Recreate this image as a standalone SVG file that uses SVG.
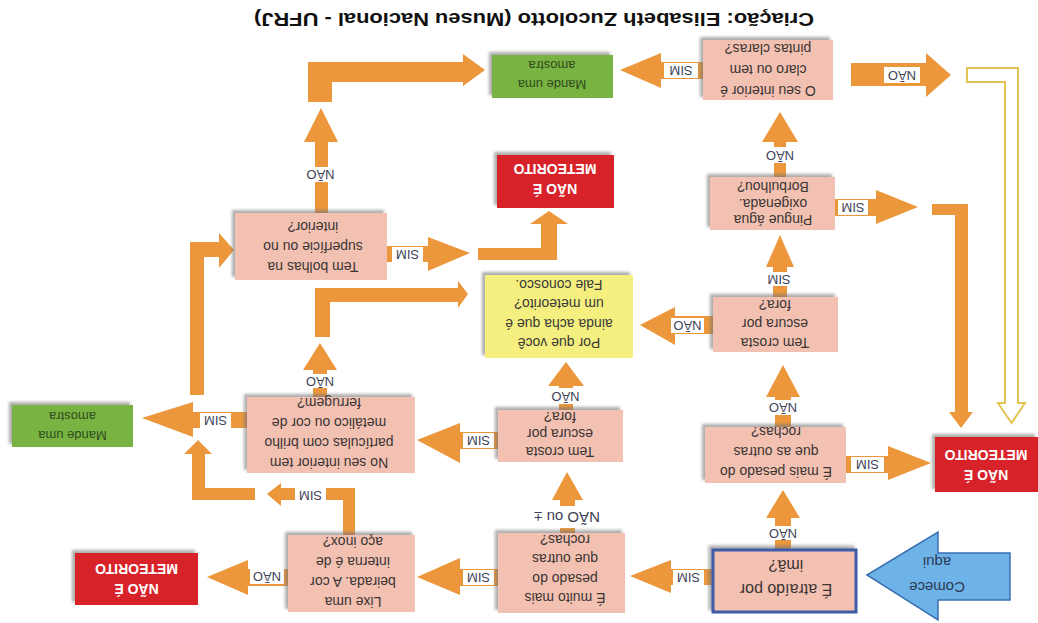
<svg xmlns="http://www.w3.org/2000/svg" width="1038" height="623" viewBox="0 0 1038 623">
<defs>
<filter id="sh" x="-10%" y="-10%" width="120%" height="120%">
<feDropShadow dx="-3" dy="-3" stdDeviation="1.5" flood-color="#777" flood-opacity="0.6"/>
</filter>
<style>
.pink{fill:#f3c1b1;filter:url(#sh)}
.red{fill:#d8232a;filter:url(#sh)}
.green{fill:#79b443;filter:url(#sh)}
.yellow{fill:#f4ef7e;filter:url(#sh)}
.ar{fill:#ec973c}
.lb{fill:#ffffff}
.t{font-family:"Liberation Sans",Arial,sans-serif;font-size:14px;fill:#3b3535;text-anchor:middle}
.tr{font-family:"Liberation Sans",Arial,sans-serif;font-size:14px;font-weight:bold;fill:#ffffff;text-anchor:middle}
.tg{font-family:"Liberation Sans",Arial,sans-serif;font-size:13px;fill:#2f4a1c;text-anchor:middle}
.tl{font-family:"Liberation Sans",Arial,sans-serif;font-size:13px;fill:#3d4257;text-anchor:middle}
</style>
</defs>
<rect width="1038" height="623" fill="#ffffff"/>

<g id="title" transform="rotate(180 534 19)">
<text x="534" y="25" textLength="560" lengthAdjust="spacingAndGlyphs" style="font-family:'Liberation Sans',Arial,sans-serif;font-size:18px;font-weight:bold;fill:#111;text-anchor:middle">Criação: Elisabeth Zucolotto (Museu Nacional  - UFRJ)</text>
</g>

<g id="connectors">
<!-- A SIM box1 -> green top -->
<rect class="ar" x="658" y="62" width="45" height="17"/>
<polygon class="ar" points="620,70 661,53 661,88"/>
<rect class="lb" x="664" y="63" width="34" height="15"/>
<text class="tl" transform="rotate(180 681 70.5)" x="681" y="75">SIM</text>
<!-- B NAO box1 -> right -->
<rect class="ar" x="851" y="63" width="77" height="23"/>
<polygon class="ar" points="951,75 926,53 926,97"/>
<rect class="lb" x="884" y="67" width="36" height="16"/>
<text class="tl" transform="rotate(180 902 75)" x="902" y="79.5">NÃO</text>
<!-- C hollow -->
<path d="M967,68 L1018,68 L1018,403 L1025,403 L1011.5,423 L998,403 L1005,403 L1005,82 L967,82 Z" fill="#ffffff" stroke="#e2c455" stroke-width="2"/>
<!-- D SIM box4 -> right, L down -->
<rect class="ar" x="835" y="199" width="43" height="17"/>
<polygon class="ar" points="918,207 876,190 876,224"/>
<rect class="lb" x="838" y="200" width="30" height="15"/>
<text class="tl" transform="rotate(180 853 207.5)" x="853" y="212">SIM</text>
<polygon class="ar" points="932,204 968,204 968,412 973,412 961,428 949,412 955,412 955,215 932,215"/>
<!-- E SIM box8 -> red9 -->
<rect class="ar" x="846" y="456" width="44" height="17"/>
<polygon class="ar" points="931,463 888,446 888,480"/>
<rect class="lb" x="851" y="457" width="33" height="15"/>
<text class="tl" transform="rotate(180 867.5 464.5)" x="867.5" y="469">SIM</text>
<!-- F NAO box10 -> box8 -->
<rect class="ar" x="775" y="516" width="16" height="34"/>
<polygon class="ar" points="783,490 766,518 800,518"/>
<rect class="lb" x="767" y="526" width="32" height="14"/>
<text class="tl" transform="rotate(180 783 533)" x="783" y="537.5">NÃO</text>
<!-- G NAO box8 -> box7 -->
<rect class="ar" x="775" y="395" width="16" height="32"/>
<polygon class="ar" points="783,365 766,397 800,397"/>
<rect class="lb" x="767" y="400" width="32" height="15"/>
<text class="tl" transform="rotate(180 783 407.5)" x="783" y="412">NÃO</text>
<!-- H SIM box7 -> box4 -->
<rect class="ar" x="773" y="265" width="14" height="32"/>
<polygon class="ar" points="780,235 766,267 794,267"/>
<rect class="lb" x="763" y="272" width="32" height="14"/>
<text class="tl" transform="rotate(180 779 279)" x="779" y="283.5">SIM</text>
<!-- I NAO box4 -> box1 -->
<rect class="ar" x="774" y="140" width="12" height="37"/>
<polygon class="ar" points="780,112 762,142 798,142"/>
<rect class="lb" x="762" y="147" width="36" height="16"/>
<text class="tl" transform="rotate(180 780 155)" x="780" y="159.5">NÃO</text>
<!-- J NAO box7 -> yellow -->
<rect class="ar" x="668" y="316" width="45" height="18"/>
<polygon class="ar" points="640,325 675,307 675,345"/>
<rect class="lb" x="671" y="318" width="33" height="15"/>
<text class="tl" transform="rotate(180 687.5 325.5)" x="687.5" y="330">NÃO</text>
<!-- K SIM box10 -> box13 -->
<rect class="ar" x="668" y="569" width="45" height="16"/>
<polygon class="ar" points="630,576 671,560 671,593"/>
<rect class="lb" x="673" y="570" width="31" height="15"/>
<text class="tl" transform="rotate(180 688.5 577.5)" x="688.5" y="582">SIM</text>
<!-- L NAO ou +- box13 -> box12 -->
<rect class="ar" x="560" y="498" width="15" height="35"/>
<polygon class="ar" points="567,472 552,500 583,500"/>
<rect class="lb" x="525" y="506" width="84" height="22"/>
<text class="tl" transform="rotate(180 567 517)" x="567" y="522" style="font-size:15px">NÃO ou ±</text>
<!-- M NAO box12 -> yellow -->
<rect class="ar" x="559" y="384" width="14" height="26"/>
<polygon class="ar" points="566,362 548,386 584,386"/>
<rect class="lb" x="548" y="388" width="35" height="16"/>
<text class="tl" transform="rotate(180 565.5 396)" x="565.5" y="400.5">NÃO</text>
<!-- N SIM box12 -> box14 -->
<rect class="ar" x="458" y="432" width="40" height="17"/>
<polygon class="ar" points="417,440 460,423 460,463"/>
<rect class="lb" x="463" y="433" width="31" height="15"/>
<text class="tl" transform="rotate(180 478.5 440.5)" x="478.5" y="445">SIM</text>
<!-- O SIM box13 -> box16 -->
<rect class="ar" x="458" y="569" width="40" height="17"/>
<polygon class="ar" points="417,577 460,558 460,595"/>
<rect class="lb" x="463" y="570" width="31" height="15"/>
<text class="tl" transform="rotate(180 478.5 577.5)" x="478.5" y="582">SIM</text>
<!-- P NAO box16 -> red17 -->
<rect class="ar" x="246" y="569" width="42" height="17"/>
<polygon class="ar" points="207,577 248,560 248,595"/>
<rect class="lb" x="250" y="569" width="34" height="15"/>
<text class="tl" transform="rotate(180 267 576.5)" x="267" y="581">NÃO</text>
<!-- Q SIM from box16 top -->
<polygon class="ar" points="343,535 343,500 280,500 280,488 355,488 355,535"/>
<polygon class="ar" points="267,494 281,483 281,506"/>
<rect class="lb" x="295" y="488" width="31" height="15"/>
<text class="tl" transform="rotate(180 310.5 495.5)" x="310.5" y="500">SIM</text>
<polygon class="ar" points="255,488 255,500 192,500 192,454 184,454 198,440 212,454 205,454 205,488"/>
<!-- R SIM box14 -> green15 -->
<rect class="ar" x="190" y="412" width="57" height="16"/>
<polygon class="ar" points="142,418 193,402 193,437"/>
<rect class="lb" x="200" y="413" width="31" height="15"/>
<text class="tl" transform="rotate(180 215.5 420.5)" x="215.5" y="425">SIM</text>
<!-- S left vertical up to box5 -->
<polygon class="ar" points="190,395 190,242 219,242 219,233 234,250 219,268 219,257 204,257 204,395"/>
<!-- T NAO box14 up, then right to yellow -->
<rect class="ar" x="313" y="368" width="14" height="29"/>
<polygon class="ar" points="320,343 303,370 337,370"/>
<rect class="lb" x="303" y="374" width="34" height="14"/>
<text class="tl" transform="rotate(180 320 381)" x="320" y="385.5">NÃO</text>
<polygon class="ar" points="315,337 315,288 458,288 458,281 468,294 458,308 458,302 330,302 330,337"/>
<!-- U SIM box5 -> right, L up to red3 -->
<rect class="ar" x="387" y="246" width="43" height="16"/>
<polygon class="ar" points="470,253 428,237 428,271"/>
<rect class="lb" x="392" y="247" width="31" height="15"/>
<text class="tl" transform="rotate(180 407.5 254.5)" x="407.5" y="259">SIM</text>
<polygon class="ar" points="478,248 541,248 541,224 530,224 549,211 568,224 557,224 557,260 478,260"/>
<!-- V NAO box5 up, L right to green top -->
<rect class="ar" x="315" y="138" width="13" height="75"/>
<polygon class="ar" points="321,108 304,142 338,142"/>
<rect class="lb" x="303" y="167" width="35" height="15"/>
<text class="tl" transform="rotate(180 320.5 174.5)" x="320.5" y="179">NÃO</text>
<polygon class="ar" points="308,102 308,62 463,62 463,54 485,70 463,86 463,82 332,82 332,102"/>
</g>

<g id="start">
<polygon points="867,575 938,532 938,553 1010,553 1010,600 938,600 938,620" fill="#6db3e8" stroke="#3a6fb2" stroke-width="1.5"/>
<text class="t" transform="rotate(180 937 575)" x="937" y="567.8" style="font-size:15px;fill:#2d3a55"><tspan x="937">Comece</tspan><tspan x="937" dy="25">aqui</tspan></text>
</g>

<g id="n1">
<rect class="pink" x="703" y="40" width="130" height="60"/>
<text class="t" transform="rotate(180 768 70)" x="768" y="53.9"><tspan x="768">O seu interior é</tspan><tspan x="768" dy="21">claro ou tem</tspan><tspan x="768" dy="21">pintas claras?</tspan></text>
</g>
<g id="n2">
<rect class="green" x="492" y="55" width="121" height="43"/>
<text class="tg" transform="rotate(180 552 75)" x="552" y="70"><tspan x="552">Mande uma</tspan><tspan x="552" dy="19">amostra</tspan></text>
</g>
<g id="n3">
<rect class="red" x="497" y="155" width="117" height="53"/>
<text class="tr" transform="rotate(180 555 179)" x="555" y="173.9"><tspan x="555">NÃO É</tspan><tspan x="555" dy="20">METEORITO</tspan></text>
</g>
<g id="n4">
<rect class="pink" x="710" y="177" width="125" height="53"/>
<text class="t" transform="rotate(180 773 203.5)" x="773" y="191.9"><tspan x="773">Pingue água</tspan><tspan x="773" dy="16.5">oxigenada.</tspan><tspan x="773" dy="16.5">Borbulhou?</tspan></text>
</g>
<g id="n5">
<rect class="pink" x="235" y="213" width="152" height="67"/>
<text class="t" transform="rotate(180 313 247)" x="313" y="231.9"><tspan x="313">Tem bolhas na</tspan><tspan x="313" dy="20">superfície ou no</tspan><tspan x="313" dy="20">interior?</tspan></text>
</g>
<g id="n6">
<rect class="yellow" x="485" y="275" width="148" height="83"/>
<text class="t" transform="rotate(180 559 314)" x="559" y="289.7" style="fill:#3a3a3a"><tspan x="559">Por que você</tspan><tspan x="559" dy="19.5">ainda acha que é</tspan><tspan x="559" dy="19.5">um meteorito?</tspan><tspan x="559" dy="19.5">Fale conosco.</tspan></text>
</g>
<g id="n7">
<rect class="pink" x="713" y="297" width="125" height="55"/>
<text class="t" transform="rotate(180 775 324)" x="775" y="309.9"><tspan x="775">Tem crosta</tspan><tspan x="775" dy="19">escura por</tspan><tspan x="775" dy="19">fora?</tspan></text>
</g>
<g id="n8">
<rect class="pink" x="705" y="427" width="141" height="56"/>
<text class="t" transform="rotate(180 776 452)" x="776" y="436.9"><tspan x="776">É mais pesado do</tspan><tspan x="776" dy="20">que as outras</tspan><tspan x="776" dy="20">rochas?</tspan></text>
</g>
<g id="n9">
<rect class="red" x="935" y="437" width="103" height="55"/>
<text class="tr" transform="rotate(180 986 464.5)" x="986" y="459.4"><tspan x="986">NÃO É</tspan><tspan x="986" dy="20">METEORITO</tspan></text>
</g>
<g id="n10">
<rect x="713" y="550" width="143" height="62" fill="#f3c1b1" stroke="#3c5ca8" stroke-width="3" filter="url(#sh)"/>
<text class="t" transform="rotate(180 786 578)" x="786" y="571.6" style="font-size:16px"><tspan x="786">É atraído por</tspan><tspan x="786" dy="24">imã?</tspan></text>
</g>
<g id="n12">
<rect class="pink" x="498" y="410" width="125" height="52"/>
<text class="t" transform="rotate(180 560 434)" x="560" y="421.4"><tspan x="560">Tem crosta</tspan><tspan x="560" dy="17.5">escura por</tspan><tspan x="560" dy="17.5">fora?</tspan></text>
</g>
<g id="n13">
<rect class="pink" x="498" y="533" width="127" height="80"/>
<text class="t" transform="rotate(180 565 569)" x="565" y="544.7"><tspan x="565">É muito mais</tspan><tspan x="565" dy="19.5">pesado do</tspan><tspan x="565" dy="19.5">que outras</tspan><tspan x="565" dy="19.5">rochas?</tspan></text>
</g>
<g id="n14">
<rect class="pink" x="247" y="397" width="168" height="76"/>
<text class="t" transform="rotate(180 329 433)" x="329" y="407.9"><tspan x="329">No seu interior tem</tspan><tspan x="329" dy="20">partículas com brilho</tspan><tspan x="329" dy="20">metálico ou cor de</tspan><tspan x="329" dy="20">ferrugem?</tspan></text>
</g>
<g id="n15">
<rect class="green" x="12" y="405" width="121" height="42"/>
<text class="tg" transform="rotate(180 72.5 426)" x="72.5" y="421"><tspan x="72.5">Mande uma</tspan><tspan x="72.5" dy="19">amostra</tspan></text>
</g>
<g id="n16">
<rect class="pink" x="288" y="535" width="127" height="77"/>
<text class="t" transform="rotate(180 353 572)" x="353" y="546.9"><tspan x="353">Lixe uma</tspan><tspan x="353" dy="20">beirada. A cor</tspan><tspan x="353" dy="20">interna é de</tspan><tspan x="353" dy="20">aço inox?</tspan></text>
</g>
<g id="n17">
<rect class="red" x="75" y="553" width="123" height="52"/>
<text class="tr" transform="rotate(180 136.5 579)" x="136.5" y="573.9"><tspan x="136.5">NÃO É</tspan><tspan x="136.5" dy="20">METEORITO</tspan></text>
</g>
</svg>
